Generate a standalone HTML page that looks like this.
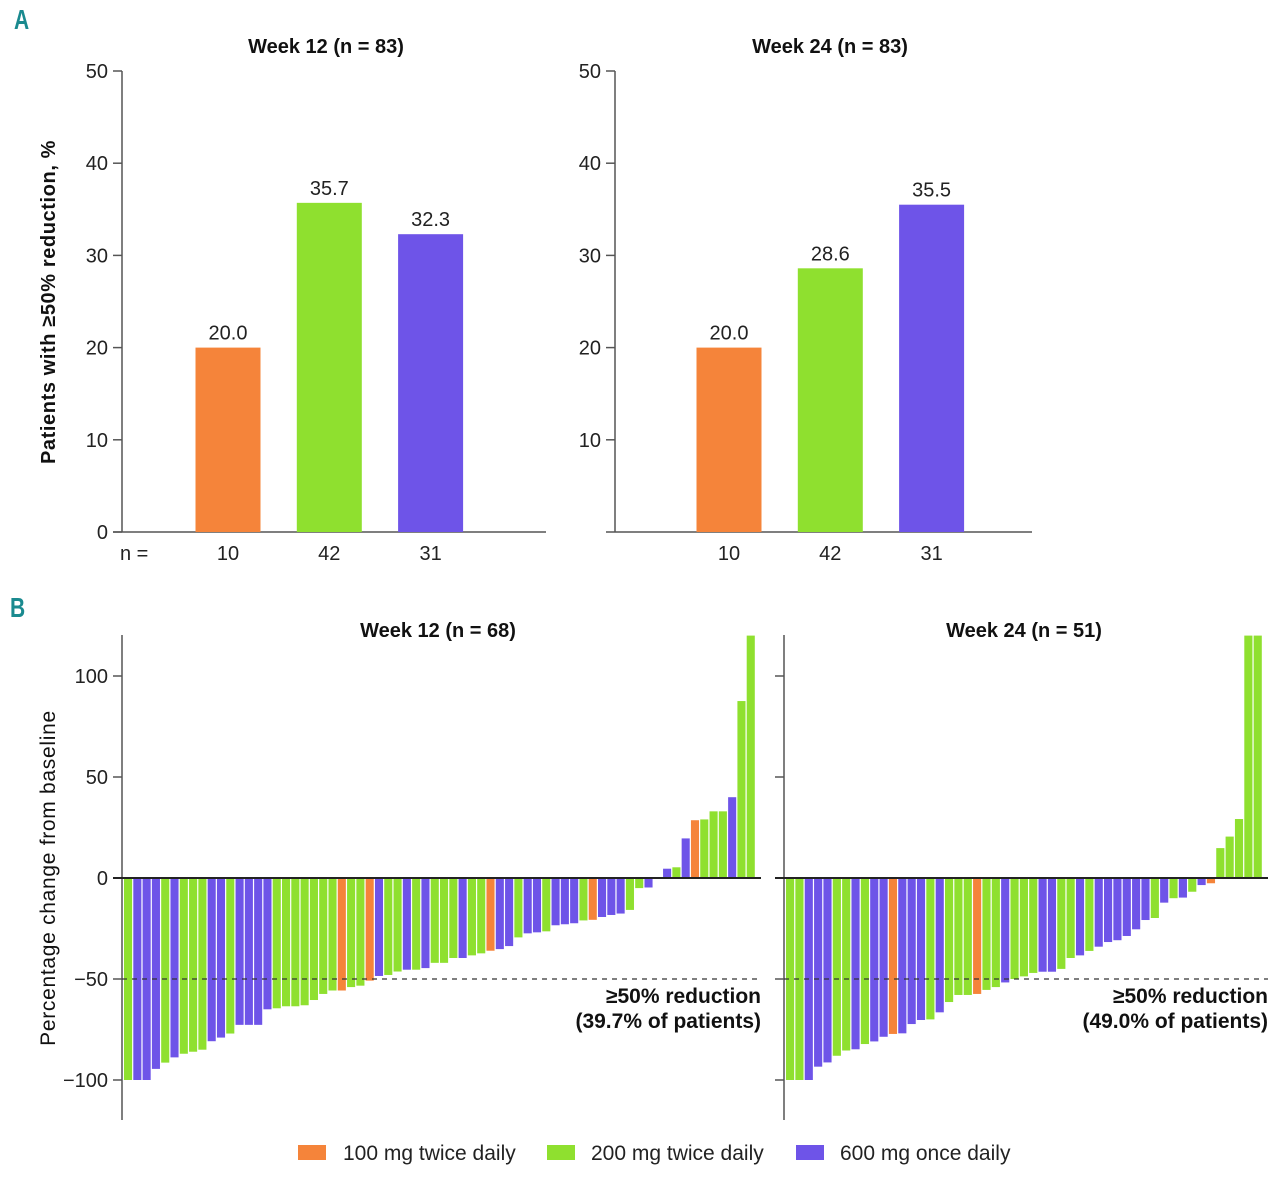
<!DOCTYPE html>
<html><head><meta charset="utf-8"><style>
body{margin:0;background:#fff;}
svg{display:block;font-family:"Liberation Sans",sans-serif;}
</style></head><body>
<svg id="chart" width="1280" height="1178" viewBox="0 0 1280 1178" xmlns="http://www.w3.org/2000/svg">
<text x="14" y="29" font-size="28" font-weight="bold" fill="#1a8a8f" transform="translate(14,29) scale(0.75,1) translate(-14,-29)">A</text>
<text x="10" y="617" font-size="28" font-weight="bold" fill="#1a8a8f" transform="translate(10,617) scale(0.75,1) translate(-10,-617)">B</text>
<text transform="translate(55,302) rotate(-90)" text-anchor="middle" font-size="20" font-weight="bold" letter-spacing="0.6" fill="#111">Patients with ≥50% reduction, %</text>
<text transform="translate(55,878) rotate(-90)" text-anchor="middle" font-size="21" letter-spacing="0.7" fill="#111">Percentage change from baseline</text>
<g id="gA"></g><g id="gB"></g>
<g>
<rect x="298" y="1145" width="28" height="15" fill="#f5843a"/>
<text x="343" y="1160" font-size="21" fill="#222">100 mg twice daily</text>
<rect x="547" y="1145" width="28" height="15" fill="#8fe02f"/>
<text x="591" y="1160" font-size="21" fill="#222">200 mg twice daily</text>
<rect x="796" y="1145" width="28" height="15" fill="#6e54e8"/>
<text x="840" y="1160" font-size="21" fill="#222">600 mg once daily</text>
</g>
</svg>
<script>
const groupNames = ["100 mg twice daily","200 mg twice daily","600 mg once daily"];
const groupN = [10, 42, 31];
const week12Pct = [20.0, 35.7, 32.3];
const week24Pct = [20.0, 28.6, 35.5];
const aTicks = [0,10,20,30,40,50];
const bTicks = [100,50,0,-50,-100];
const w12Values = [-100,-100,-100,-94.5,-91.4,-88.8,-87,-86,-85,-80.8,-79,-77,-72.7,-72.7,-72.7,-65,-64.5,-63.5,-63.5,-63,-60.4,-57.4,-55.7,-55.7,-54,-53.3,-50.8,-48.5,-48,-46.3,-45.4,-45.4,-44.6,-42,-42,-39.6,-39.6,-38.3,-37.3,-36,-35.2,-33.7,-29.4,-27.4,-26.9,-26.4,-23.4,-22.9,-22.4,-21,-20.7,-19.3,-18.3,-17.6,-15.8,-5,-4.7,0,4.6,5.3,19.6,28.6,29,33,33,40,87.6,125];
const w12G = ["g","p","p","p","g","p","g","g","g","p","p","g","p","p","p","p","g","g","g","g","g","g","g","o","g","g","o","p","g","g","p","g","p","g","g","g","p","g","g","o","p","p","g","p","p","g","p","p","p","g","o","p","p","p","g","g","p","g","p","g","p","o","g","g","g","p","g","g"];
const w24Values = [-100,-100,-100,-93.4,-91.3,-88,-85.4,-84.8,-82.2,-80.9,-78.6,-77.2,-76.9,-72.3,-70.3,-70,-66.5,-61.4,-57.9,-57.9,-57.4,-55.4,-54,-51.7,-50,-48.7,-47,-46.4,-46.4,-45,-39.6,-38.3,-36.1,-34,-31.7,-30.8,-28.7,-25.4,-20.8,-19.8,-12.2,-10,-9.7,-6.8,-3.5,-2.6,14.8,20.5,29.2,125,125];
const w24G = ["g","g","p","p","p","g","g","p","g","p","p","o","p","p","p","g","p","g","g","g","o","g","g","p","g","g","g","p","p","g","g","p","g","p","p","p","p","p","p","g","p","g","p","g","p","o","g","g","g","g","g"];
const col = {o:"#f5843a", g:"#8fe02f", p:"#6e54e8"};
const NS="http://www.w3.org/2000/svg";
function mk(parent, tag, attrs){const e=document.createElementNS(NS,tag);for(const k in attrs)e.setAttribute(k,attrs[k]);parent.appendChild(e);return e;}
const gA=document.getElementById('gA'), gB=document.getElementById('gB');
function barChartA(x0, xEnd, values, title, titleX, showZero, showN, off, key){
  const y0=532, yTop=71, sc=(y0-yTop)/50;
  const yS=v=>y0-v*sc;
  const ax=mk(gA,'line',{x1:x0,y1:yTop,x2:x0,y2:y0,stroke:'#555','stroke-width':1.5});
  
  
  const xl=mk(gA,'line',{x1:x0-9,y1:y0,x2:xEnd,y2:y0,stroke:'#555','stroke-width':1.5});
  
  
  aTicks.forEach(t=>{
    if(t===0 && !showZero) return;
    mk(gA,'line',{x1:x0-9,y1:yS(t),x2:x0,y2:yS(t),stroke:'#555','stroke-width':1.5});
    const tx=mk(gA,'text',{x:x0-14,y:yS(t)+7,'text-anchor':'end','font-size':20,fill:'#222'});
    tx.textContent=t;
    
    
  });
  const tt=mk(gA,'text',{x:titleX,y:53,'text-anchor':'middle','font-size':20,'font-weight':'bold',fill:'#111'});
  tt.textContent=title;
  
  
  const cols=[col.o,col.g,col.p];
  values.forEach((v,i)=>{
    const cx=x0+off+i*101.3;
    const r=mk(gA,'rect',{x:cx-32.5,y:yS(v),width:65,height:y0-yS(v),fill:cols[i]});
    
    
    const lb=mk(gA,'text',{x:cx,y:yS(v)-8,'text-anchor':'middle','font-size':20,fill:'#222'});
    lb.textContent=v.toFixed(1);
    
    
    const nl=mk(gA,'text',{x:cx,y:560,'text-anchor':'middle','font-size':20,fill:'#222'});
    nl.textContent=groupN[i];
    
    
  });
  if(showN){
    const n=mk(gA,'text',{x:120,y:560,'text-anchor':'start','font-size':20,fill:'#222'});
    n.textContent='n =';
    
    
  }
}
barChartA(122,546,week12Pct,'Week 12 (n = 83)',326,true,true,106,'a-week12');
barChartA(615,1032,week24Pct,'Week 24 (n = 83)',830,false,false,114,'a-week24');

function waterfall(x0, xEnd, values, groups, title, titleX, showLabels, note, key){
  const y0=878, sc=2.02, top=635, bot=1120;
  const yS=v=>y0-Math.max(-100,Math.min(v,120))*sc;
  const ax=mk(gB,'line',{x1:x0,y1:top,x2:x0,y2:bot,stroke:'#555','stroke-width':1.5});
  
  
  bTicks.forEach(t=>{
    mk(gB,'line',{x1:x0-9,y1:yS(t),x2:x0,y2:yS(t),stroke:'#555','stroke-width':1.5});
    if(showLabels){
      const tx=mk(gB,'text',{x:x0-14,y:yS(t)+7,'text-anchor':'end','font-size':20,fill:'#222'});
      tx.textContent=t<0?'\u2212'+(-t):t;
      
      
    }
  });
  const step=(xEnd-x0-3)/values.length;
  values.forEach((v,i)=>{
    const x=x0+2+i*step;
    const y1=yS(Math.max(v,0)), y2=yS(Math.min(v,0));
    const r=mk(gB,'rect',{x:x,y:y1,width:step-1.2,height:Math.max(y2-y1,0),fill:col[groups[i]]||col.g});
    
    
  });
  const zl=mk(gB,'line',{x1:x0-9,y1:y0,x2:xEnd+4,y2:y0,stroke:'#222','stroke-width':2});
  
  
  const dl=mk(gB,'line',{x1:x0,y1:yS(-50),x2:xEnd+4,y2:yS(-50),stroke:'#333','stroke-width':1.2,'stroke-dasharray':'5,5'});
  
  
  const tt=mk(gB,'text',{x:titleX,y:637,'text-anchor':'middle','font-size':20,'font-weight':'bold',fill:'#111'});
  tt.textContent=title;
  
  
  const a=mk(gB,'text',{x:xEnd+4,y:1003,'text-anchor':'end','font-size':21,'font-weight':'bold',fill:'#111'});
  a.textContent='≥50% reduction';
  
  
  const b=mk(gB,'text',{x:xEnd+4,y:1028,'text-anchor':'end','font-size':21,'font-weight':'bold',fill:'#111'});
  b.textContent=note;
  
  
}
waterfall(122,757,w12Values,w12G,'Week 12 (n = 68)',438,true,'(39.7% of patients)','b-week12');
waterfall(784,1264,w24Values,w24G,'Week 24 (n = 51)',1024,false,'(49.0% of patients)','b-week24');
</script>
</body></html>
